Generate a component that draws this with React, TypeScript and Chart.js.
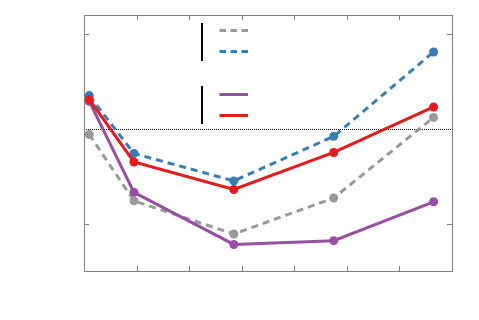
import React, { useEffect, useRef } from "react";
import { Chart, registerables } from "chart.js";

Chart.register(...registerables);

const xPositions = [0.1, 0.95, 2.85, 4.75, 6.65];
const seriesGray = [-0.06, -0.76, -1.11, -0.73, 0.12];
const seriesBlue = [0.35, -0.26, -0.55, -0.08, 0.81];
const seriesPurple = [0.29, -0.67, -1.22, -1.18, -0.77];
const seriesRed = [0.31, -0.35, -0.64, -0.25, 0.23];
const xTicks = [1, 2, 3, 4, 5, 6];
const yTicks = [1, 0, -1];

const GRAY = "#999999";
const BLUE = "#377eb8";
const PURPLE = "#984ea3";
const RED = "#e41a1c";

const toPts = (ys: number[]) => ys.map((y, i) => ({ x: xPositions[i], y }));

const framePlugin = {
  id: "frame",
  beforeDatasetsDraw(chart: any) {
    const { ctx, chartArea: a, scales } = chart;
    const ys = scales.y;
    const xs = scales.x;
    ctx.save();
    // zero dotted line
    const y0 = Math.round(ys.getPixelForValue(0)) + 0.5;
    ctx.strokeStyle = "#000";
    ctx.lineWidth = 1;
    ctx.setLineDash([1, 1]);
    ctx.beginPath();
    ctx.moveTo(a.left, y0);
    ctx.lineTo(a.right, y0);
    ctx.stroke();
    ctx.setLineDash([]);
    // legend bars
    const lx = a.left + 118;
    ctx.strokeStyle = "#000";
    ctx.lineWidth = 2;
    ctx.beginPath();
    ctx.moveTo(lx, a.top + 8);
    ctx.lineTo(lx, a.top + 46);
    ctx.moveTo(lx, a.top + 71);
    ctx.lineTo(lx, a.top + 109);
    ctx.stroke();
    const items = [
      { c: GRAY, dy: 15.5, dash: [6.5, 4.5] },
      { c: BLUE, dy: 36.5, dash: [6.5, 4.5] },
      { c: PURPLE, dy: 79.5, dash: [] },
      { c: RED, dy: 100.5, dash: [] },
    ];
    ctx.lineWidth = 3;
    for (const it of items) {
      ctx.strokeStyle = it.c;
      ctx.setLineDash(it.dash);
      ctx.beginPath();
      ctx.moveTo(a.left + 135.5, a.top + it.dy);
      ctx.lineTo(a.left + 164, a.top + it.dy);
      ctx.stroke();
    }
    ctx.setLineDash([]);
    ctx.restore();
  },
  afterDraw(chart: any) {
    const { ctx, chartArea: a, scales } = chart;
    const xs = scales.x;
    const ys = scales.y;
    ctx.save();
    ctx.strokeStyle = "#808080";
    ctx.lineWidth = 1;
    ctx.strokeRect(Math.round(a.left) + 0.5, Math.round(a.top) + 0.5, Math.round(a.right - a.left), Math.round(a.bottom - a.top));
    ctx.beginPath();
    for (const t of xTicks) {
      const px = Math.round(xs.getPixelForValue(t)) + 0.5;
      ctx.moveTo(px, a.top);
      ctx.lineTo(px, a.top + 5);
      ctx.moveTo(px, a.bottom);
      ctx.lineTo(px, a.bottom - 5);
    }
    for (const t of yTicks) {
      if (t === 0) continue;
      const py = Math.round(ys.getPixelForValue(t)) + 0.5;
      ctx.moveTo(a.left, py);
      ctx.lineTo(a.left + 5, py);
      ctx.moveTo(a.right, py);
      ctx.lineTo(a.right - 5, py);
    }
    ctx.stroke();
    ctx.restore();
  },
};

const ds = (data: number[], color: string, dashed: boolean, order: number) => ({
  data: toPts(data),
  borderColor: color,
  backgroundColor: color,
  borderWidth: 3,
  borderDash: dashed ? [7, 5] : [],
  pointRadius: 4.5,
  pointBorderWidth: 0,
  pointBackgroundColor: color,
  order,
  clip: false as any,
});

export default function App() {
  const ref = useRef<HTMLCanvasElement>(null);
  useEffect(() => {
    if (!ref.current) return;
    const chart = new Chart(ref.current, {
      type: "line",
      data: {
        datasets: [
          ds(seriesRed, RED, false, 1),
          ds(seriesPurple, PURPLE, false, 2),
          ds(seriesBlue, BLUE, true, 3),
          ds(seriesGray, GRAY, true, 4),
        ],
      },
      options: {
        animation: false,
        responsive: true,
        maintainAspectRatio: false,
        layout: { padding: { left: 84, right: 27, top: 15, bottom: 49 } },
        plugins: { legend: { display: false }, tooltip: { enabled: false } },
        scales: {
          x: { type: "linear", min: 0, max: 7, display: false },
          y: { type: "linear", min: -1.5, max: 1.2, display: false },
        },
      },
      plugins: [framePlugin],
    });
    return () => chart.destroy();
  }, []);
  return (
    <div style={{ position: "fixed", left: 0, top: 0, width: 479, height: 320, background: "#fff" }}>
      <canvas ref={ref} />
    </div>
  );
}
